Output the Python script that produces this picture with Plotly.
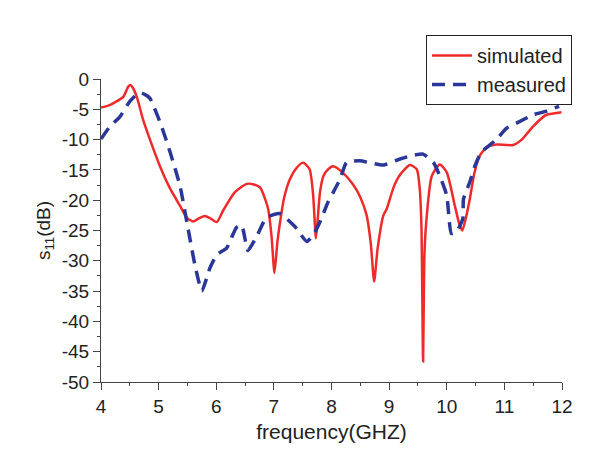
import plotly.graph_objects as go

sim_f = [4.00, 4.13, 4.27, 4.39, 4.47, 4.51, 4.55, 4.62, 4.73, 4.85, 5.02, 5.20, 5.37, 5.49, 5.60,
         5.70, 5.80, 5.90, 6.01, 6.12, 6.32, 6.53, 6.65, 6.76, 6.90, 6.96, 7.01, 7.06, 7.10, 7.18,
         7.28, 7.40, 7.51, 7.62, 7.68, 7.73, 7.77, 7.80, 7.86, 7.94, 8.03, 8.20, 8.38, 8.50, 8.61,
         8.68, 8.74, 8.80, 8.90, 8.96, 9.08, 9.19, 9.36, 9.48, 9.53, 9.56, 9.59, 9.61, 9.64, 9.74,
         9.88, 10.00, 10.14, 10.22, 10.27, 10.33, 10.40, 10.48, 10.57, 10.70, 10.86, 11.15, 11.30,
         11.50, 11.73, 11.85, 11.99]
sim_db = [-4.7, -4.4, -3.7, -2.9, -1.3, -1.0, -1.4, -2.9, -6.7, -10.0, -14.3, -18.1, -20.9, -22.9, -23.5,
          -23.0, -22.6, -23.0, -23.6, -21.7, -18.7, -17.3, -17.4, -17.9, -21.4, -26.0, -32.0, -27.0, -24.1, -19.5,
          -16.5, -14.6, -13.8, -14.9, -19.0, -26.3, -22.0, -18.7, -16.0, -14.9, -14.4, -15.5, -17.5, -19.5, -22.5,
          -27.0, -33.4, -28.0, -22.5, -21.4, -17.8, -15.8, -14.2, -14.9, -18.0, -24.1, -46.6, -30.0, -24.1, -16.0,
          -14.1, -15.4, -20.9, -24.0, -25.0, -23.0, -19.8, -15.5, -12.7, -11.2, -10.8, -10.9, -10.0,
          -7.8, -5.9, -5.7, -5.5]

meas_f = [4.00, 4.16, 4.33, 4.50, 4.65, 4.75, 4.85, 5.05, 5.20, 5.37, 5.49, 5.63, 5.75, 5.89, 6.01,
          6.18, 6.35, 6.44, 6.55, 6.70, 6.87, 7.10, 7.36, 7.57, 7.68, 7.80, 7.94, 8.03, 8.15, 8.26,
          8.49, 8.70, 8.90, 9.19, 9.42, 9.59, 9.77, 9.88, 10.00, 10.08, 10.17, 10.28, 10.29, 10.40,
          10.49, 10.60, 10.86, 11.04, 11.27, 11.50, 11.73, 11.95]
meas_db = [-9.9, -7.8, -6.2, -3.7, -2.3, -2.5, -3.2, -7.8, -12.1, -17.6, -23.6, -30.7, -35.0, -31.2, -29.0,
           -27.9, -24.5, -24.1, -28.3, -26.0, -22.9, -22.2, -24.3, -26.8, -25.8, -23.6, -20.3, -18.7, -16.5, -13.8,
           -13.5, -13.9, -14.2, -13.2, -12.6, -12.4, -13.8, -16.0, -19.2, -25.5, -25.2, -23.0, -19.8, -17.0,
           -14.3, -12.1, -10.0, -8.1, -7.0, -5.9, -5.3, -4.5]

x_ticks = [4, 5, 6, 7, 8, 9, 10, 11, 12]
y_ticks = [0, -5, -10, -15, -20, -25, -30, -35, -40, -45, -50]

FONT = "Liberation Sans, Arial, sans-serif"

fig = go.Figure()
fig.add_trace(go.Scatter(x=sim_f, y=sim_db, mode="lines", name="simulated",
                         line=dict(color="#ee2a2a", width=2.5, shape="spline", smoothing=0.6)))
fig.add_trace(go.Scatter(x=meas_f, y=meas_db, mode="lines", name="measured",
                         line=dict(color="#2a3799", width=3.5, dash="13px,8px",
                                   shape="spline", smoothing=0.5)))

axis_common = dict(showline=True, linecolor="#444", linewidth=1, ticks="outside",
                   tickcolor="#444", ticklen=7, showgrid=False, zeroline=False, mirror=False,
                   tickfont=dict(family=FONT, size=19, color="#222"))

fig.update_xaxes(range=[4, 12], tickvals=x_ticks, ticktext=[str(v) for v in x_ticks],
                 title=dict(text="frequency(GHZ)", font=dict(family=FONT, size=21, color="#222"), standoff=8),
                 minor=dict(ticks="outside", ticklen=3, dtick=0.5, tickcolor="#444"),
                 **axis_common)
fig.update_yaxes(range=[-50, 0], tickvals=y_ticks, ticktext=[str(v) for v in y_ticks],
                 title=dict(text="s<sub>11</sub>(dB)", font=dict(family=FONT, size=19, color="#222"), standoff=6),
                 minor=dict(ticks="outside", ticklen=3, dtick=2.5, tickcolor="#444"),
                 **axis_common)

fig.update_layout(
    width=600, height=451,
    margin=dict(l=101, r=38, t=79, b=64),
    plot_bgcolor="white", paper_bgcolor="white",
    legend=dict(x=0.705, y=1.145, xanchor="left", yanchor="top",
                bordercolor="#222", borderwidth=1, bgcolor="white",
                font=dict(family=FONT, size=20, color="#222"),
                tracegroupgap=0, itemwidth=40),
    showlegend=True,
)

fig.write_html("out.html")
